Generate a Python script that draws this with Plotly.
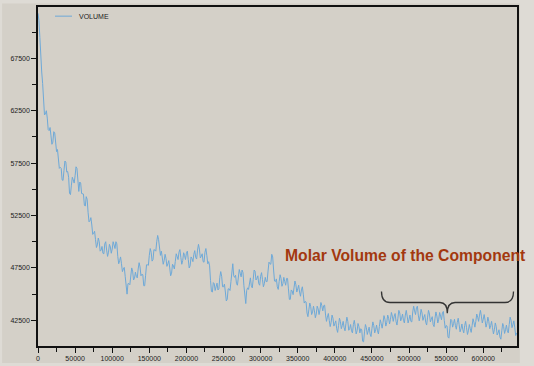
import plotly.graph_objects as go

# sampling step of the simulation (x axis units)
step = 1250
volume = [
    71800, 71100, 69500, 67300, 66200, 65100, 63000, 62100, 62200, 62500,
    61800, 60700, 60600, 60900, 60100, 59300, 59500, 60500, 60400, 59000,
    58600, 58800, 58000, 57000, 57100, 57000, 55900, 55850, 56800, 57700,
    57600, 56650, 56700, 56150, 54600, 54500, 55400, 56150, 55900, 55600,
    56300, 57150, 57000, 55400, 54800, 55700, 55600, 54600, 54600, 54550,
    53500, 53400, 54300, 54050, 52800, 51900, 52000, 52300, 51600, 50700,
    50800, 51000, 50200, 49450, 49700, 50350, 50000, 49100, 49200, 49550,
    48900, 48850, 49800, 50000, 49200, 48600, 49000, 49750, 49500, 48900,
    49300, 50000, 49700, 49350, 50000, 49800, 48600, 47900, 48200, 48550,
    47900, 47150, 47400, 47550, 46700, 45350, 45000, 46000, 46000, 45900,
    46800, 47500, 47200, 46350, 46500, 47100, 46700, 46550, 47400, 48000,
    47600, 46750, 46900, 46850, 45800, 45800, 46800, 47800, 47800, 47750,
    48700, 49350, 49000, 48150, 48300, 49250, 49200, 49100, 50000, 50600,
    50200, 48950, 48700, 49100, 48500, 47850, 48200, 48800, 48400, 47650,
    47900, 48200, 47500, 46750, 47000, 47850, 47700, 47400, 48100, 48850,
    48600, 48300, 49000, 49250, 48500, 47850, 48200, 48950, 48700, 48300,
    48900, 49100, 48300, 47500, 47700, 48550, 48400, 48100, 48800, 49150,
    48500, 48350, 49200, 49750, 49300, 48450, 48600, 48850, 48100, 48050,
    49000, 49350, 48700, 47900, 48100, 47700, 46300, 45250, 45200, 46100,
    46000, 45350, 45700, 46050, 45400, 45500, 46600, 47150, 46700, 45700,
    45700, 45950, 45200, 44350, 44500, 45500, 45500, 45350, 46200, 47550,
    47900, 46750, 46600, 46800, 46000, 45850, 46700, 47350, 47000, 46650,
    47300, 47050, 45800, 44450, 44100, 45350, 45600, 45450, 46300, 46550,
    45800, 45600, 46400, 47300, 47200, 46350, 46500, 46750, 46000, 45850,
    46700, 47050, 46400, 45700, 46000, 46600, 46200, 46200, 47200, 48050,
    47900, 47850, 48800, 48550, 47300, 46250, 46200, 46450, 45700, 45450,
    46200, 46850, 46500, 45750, 46000, 46600, 46200, 45850, 46500, 46500,
    45500, 44500, 44500, 45400, 45300, 44950, 45600, 46250, 45900, 45200,
    45500, 45850, 45200, 44800, 45400, 45700, 45000, 44150, 44300, 44250,
    43200, 42850, 43500, 44150, 43800, 43050, 43300, 43850, 43400, 42750,
    43100, 43850, 43600, 43050, 43500, 44200, 43900, 43400, 43900, 43950,
    43000, 42400, 42800, 43150, 42500, 41900, 42300, 43000, 42700, 41950,
    42200, 42450, 41700, 41350, 42000, 42700, 42400, 41700, 42000, 42400,
    41800, 41500, 42200, 42800, 42400, 41550, 41700, 42100, 41500, 41300,
    42100, 42500, 41900, 41200, 41500, 42200, 41900, 41300, 41700, 41600,
    40500, 40450, 41400, 42100, 41800, 41150, 41500, 41850, 41200, 40950,
    41700, 42350, 42000, 41300, 41600, 42050, 41500, 41200, 41900, 42550,
    42200, 41750, 42300, 42950, 42600, 41950, 42300, 43000, 42700, 42150,
    42600, 43250, 42900, 42400, 42900, 43150, 42400, 42050, 42700, 43450,
    43200, 42450, 42700, 43100, 42500, 42250, 43000, 43450, 42900, 42250,
    42600, 43000, 42400, 42350, 43300, 43850, 43400, 43050, 43700, 43850,
    43000, 42450, 42900, 43550, 43200, 42500, 42800, 43050, 42300, 42050,
    42800, 43450, 43100, 42350, 42600, 42850, 42100, 41900, 42700, 43300,
    42900, 42250, 42600, 43250, 42900, 42550, 43200, 43350, 42500, 41750,
    42000, 41950, 40900, 40800, 41700, 42600, 42500, 41850, 42200, 42600,
    42000, 41650, 42300, 42700, 42100, 41400, 41700, 42150, 41600, 41300,
    42000, 42400, 41800, 41150, 41500, 42100, 41700, 41350, 42000, 42650,
    42300, 41850, 42400, 43100, 42800, 42400, 43000, 43450, 42900, 42250,
    42600, 43050, 42500, 41850, 42200, 42800, 42400, 41700, 42000, 42400,
    41800, 41200, 41600, 42250, 41900, 41100, 41300, 41600, 40900, 40700,
    41500, 42200, 41900, 41250, 41600, 42050, 41500, 41300, 42100, 42800,
    42500, 41800, 42100, 42450, 41800, 41050, 41300,
]
steps = [i * step for i in range(len(volume))]

series_name = "VOLUME"
annotation_text = "Molar Volume of the Component"

BG = "#d4d0c8"
LINE = "#6ea9d8"

fig = go.Figure()
fig.add_trace(go.Scatter(x=steps, y=volume, mode="lines", name=series_name,
                         line=dict(color=LINE, width=1), showlegend=False))

axis_common = dict(showline=True, linecolor="#111", linewidth=1.5, mirror=True,
                   showgrid=False, zeroline=False, ticks="outside", ticklen=5,
                   tickcolor="#111", tickwidth=1, automargin=False,
                   tickfont=dict(family="Liberation Sans", size=7, color="#222"))

fig.update_layout(
    width=534, height=366,
    margin=dict(l=38, r=17, t=7, b=20),
    paper_bgcolor="#dedbd5", plot_bgcolor=BG,
    xaxis=dict(range=[0, 645500], tick0=0, dtick=50000, tickformat="d",
               minor=dict(dtick=25000, ticks="outside", ticklen=4, tickcolor="#111"),
               **axis_common),
    yaxis=dict(range=[40050, 72400], tick0=42500, dtick=5000, tickformat="d",
               minor=dict(dtick=2500, ticks="outside", ticklen=4, tickcolor="#111"),
               **axis_common),
    shapes=[
        # inner gray panel of the figure
        dict(type="rect", xref="paper", yref="paper", x0=-0.075, x1=1.006,
             y0=-0.05, y1=1.01, fillcolor=BG, line=dict(width=0), layer="below"),
        # manual legend sample
        dict(type="line", xref="paper", yref="paper", x0=0.0355, x1=0.071,
             y0=0.973, y1=0.973, line=dict(color=LINE, width=1)),
        # curly brace
        dict(type="path", xref="paper", yref="paper",
             path=("M 0.7171,0.1608 Q 0.7171,0.1283 0.7349,0.1283 L 0.8392,0.1283 "
                   "Q 0.8545,0.1283 0.8545,0.0965 Q 0.8545,0.1283 0.8706,0.1283 "
                   "L 0.9749,0.1283 Q 0.9927,0.1283 0.9927,0.1608"),
             line=dict(color="#333", width=1.3)),
    ],
    annotations=[
        dict(text=series_name, xref="paper", yref="paper", x=0.0814, y=0.973,
             xanchor="left", yanchor="middle", showarrow=False,
             font=dict(family="Liberation Sans", size=7, color="#222")),
        dict(text="<b>" + annotation_text + "</b>", xref="paper", yref="paper",
             x=0.5115, y=0.2655, xanchor="left", yanchor="middle", showarrow=False,
             font=dict(family="Liberation Sans", size=15.7, color="#a3380f")),
    ],
)

fig.write_html("out.html", config={"displayModeBar": False},
               post_script="document.body.style.margin='0';document.body.style.overflow='hidden';")
